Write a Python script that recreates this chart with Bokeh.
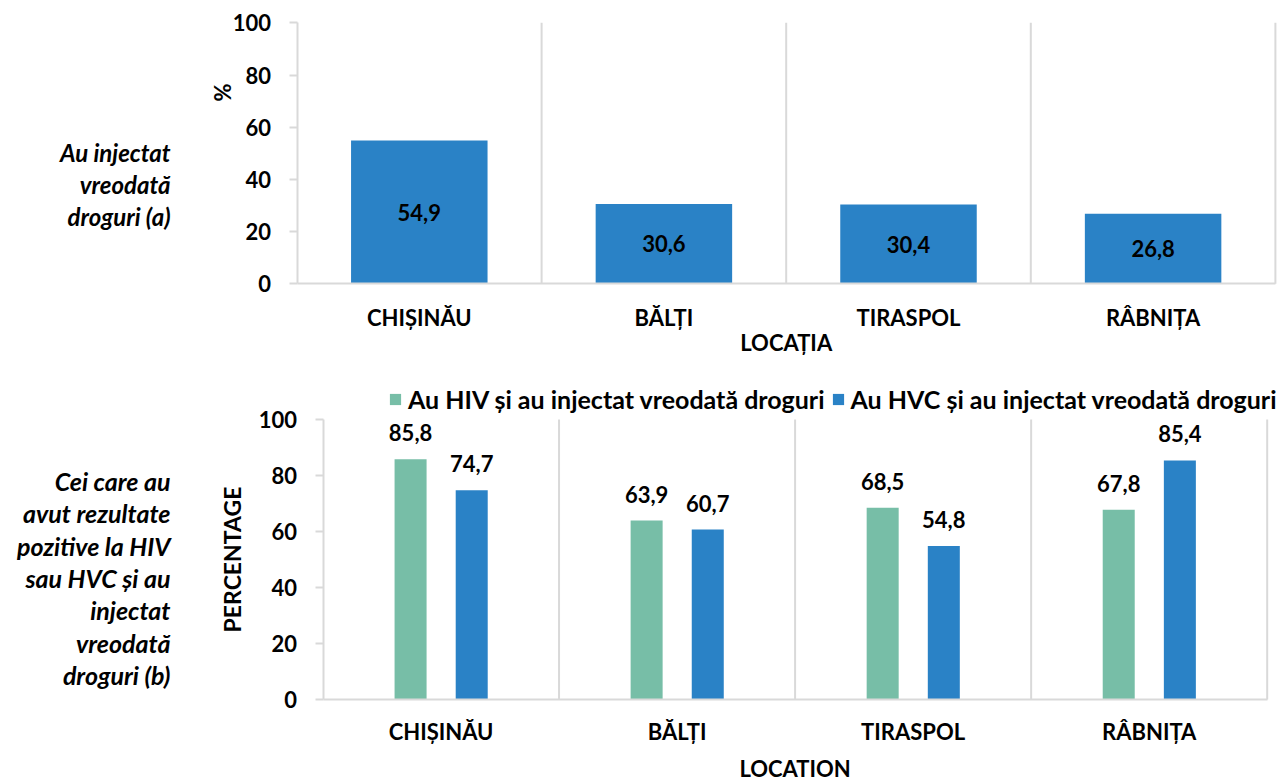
import math
from bokeh.plotting import figure
from bokeh.models import (Range1d, FixedTicker, ColumnDataSource, LabelSet, Label,
                          Legend, LegendItem)
from bokeh.layouts import column
from bokeh.core.properties import value
from bokeh.embed import file_html
from bokeh.resources import INLINE

# ---------------- data ----------------
locations = ["CHIȘINĂU", "BĂLȚI", "TIRASPOL", "RÂBNIȚA"]
injected_ever = [54.9, 30.6, 30.4, 26.8]
hiv_injected = [85.8, 63.9, 68.5, 67.8]
hvc_injected = [74.7, 60.7, 54.8, 85.4]
y_ticks = [0, 20, 40, 60, 80, 100]
label_a = ["Au injectat", "vreodată", "droguri (a)"]
label_b = ["Cei care au", "avut rezultate", "pozitive la HIV", "sau HVC și au",
           "injectat", "vreodată", "droguri (b)"]
legend_labels = ["Au HIV și au injectat vreodată droguri",
                 "Au HVC și au injectat vreodată droguri"]
x_title_a = "LOCAȚIA"
x_title_b = "LOCATION"
y_title_a = "%"
y_title_b = "PERCENTAGE"

# ---------------- style ----------------
FONT = "Lato"
GREY = "#D9D9D9"
BLUE = "#2A82C6"
GREEN = "#77BEA7"
W = 1283
n = len(locations)
centers = [i + 0.5 for i in range(n)]
bounds_x = list(range(1, n + 1))
fmt = lambda v: f"{v:.1f}".replace(".", ",")


def base_fig(height, ax_px, base_px, cat_px, unit_px):
    """Frame covers the whole canvas; both axes are pinned at the data origin.
    ax_px: canvas x of the value axis, base_px: canvas y of the zero line."""
    p = figure(width=W, height=height,
               x_range=Range1d(-ax_px / cat_px, (W - ax_px) / cat_px),
               y_range=Range1d(-(height - base_px) / unit_px, base_px / unit_px),
               output_backend="svg", toolbar_location=None,
               min_border_left=0, min_border_right=0, min_border_top=0,
               min_border_bottom=0)
    p.title.visible = False
    p.outline_line_color = None
    p.grid.grid_line_color = None
    # category separators
    p.segment(x0=bounds_x, y0=[0] * n, x1=bounds_x, y1=[max(y_ticks)] * n,
              line_color=GREY, line_width=2)
    # x axis
    p.xaxis.fixed_location = 0
    p.xaxis.bounds = (0, n)
    p.xaxis.ticker = FixedTicker(ticks=centers)
    p.xaxis.major_label_overrides = {c: t for c, t in zip(centers, locations)}
    p.xaxis.major_tick_out = 0
    p.xaxis.major_tick_in = 0
    p.xaxis.minor_tick_out = 0
    p.xaxis.minor_tick_in = 0
    p.xaxis.axis_line_color = GREY
    p.xaxis.axis_line_width = 2
    p.xaxis.major_label_text_font = FONT
    p.xaxis.major_label_text_font_style = "bold"
    p.xaxis.major_label_text_font_size = "22px"
    p.xaxis.major_label_text_color = "black"
    # y axis
    p.yaxis.fixed_location = 0
    p.yaxis.bounds = (0, max(y_ticks))
    p.yaxis.ticker = FixedTicker(ticks=y_ticks)
    p.yaxis.minor_tick_out = 0
    p.yaxis.minor_tick_in = 0
    p.yaxis.major_tick_in = 0
    p.yaxis.major_tick_out = 8
    p.yaxis.major_tick_line_color = GREY
    p.yaxis.major_tick_line_width = 2
    p.yaxis.axis_line_color = GREY
    p.yaxis.axis_line_width = 2
    p.yaxis.major_label_standoff = 18
    p.yaxis.major_label_text_font = FONT
    p.yaxis.major_label_text_font_style = "bold"
    p.yaxis.major_label_text_font_size = "22px"
    p.yaxis.major_label_text_color = "black"
    p.yaxis.axis_label_text_font = FONT
    p.yaxis.axis_label_text_font_style = "bold"
    p.yaxis.axis_label_text_font_size = "23px"
    p.yaxis.axis_label_text_color = "black"
    return p


def side_text(p, lines, x, y_first, step, size):
    for i, line in enumerate(lines):
        p.add_layout(Label(x=x, y=y_first - step * i, text=line, text_align="right",
                           text_baseline="middle", text_font=FONT,
                           text_font_style="bold italic", text_font_size=size,
                           text_color="black"))


def x_title(p, text, drop, size):
    p.add_layout(Label(x=n / 2, y=0, y_offset=-drop, text=text, text_align="center",
                       text_baseline="middle", text_font=FONT, text_font_style="bold",
                       text_font_size=size, text_color="black"))


# ---------------- top chart ----------------
top = base_fig(365, 296.5, 283.3, 244.6, 2.61)
src_a = ColumnDataSource(dict(x=centers, v=injected_ever,
                              ly=[v / 2 for v in injected_ever],
                              t=[fmt(v) for v in injected_ever]))
top.vbar(x="x", top="v", width=0.558, source=src_a, fill_color=BLUE, line_color=None)
top.add_layout(LabelSet(x="x", y="ly", text="t", source=src_a, text_align="center",
                        text_baseline="middle", text_font=value(FONT),
                        text_font_style="bold", text_font_size="22px", text_color="black"))
top.xaxis.major_label_standoff = 20
x_title(top, x_title_a, 58.5, "22px")
top.add_layout(Label(x=-0.305, y=73.3, text=y_title_a, angle=math.pi / 2, text_align="center",
                     text_baseline="middle", text_font=FONT, text_font_style="bold",
                     text_font_size="22px", text_color="black"))
side_text(top, label_a, -0.517, 50.3, 12.3, "24px")

# ---------------- bottom chart ----------------
bot = base_fig(417, 322.5, 334, 236.05, 2.80)
x_hiv = [c - 0.129 for c in centers]
x_hvc = [c + 0.130 for c in centers]
src_b = ColumnDataSource(dict(xh=x_hiv, xc=x_hvc, hiv=hiv_injected, hvc=hvc_injected,
                              th=[fmt(v) for v in hiv_injected],
                              tc=[fmt(v) for v in hvc_injected]))
r_hiv = bot.vbar(x="xh", top="hiv", width=0.1356, source=src_b, fill_color=GREEN, line_color=None)
r_hvc = bot.vbar(x="xc", top="hvc", width=0.1356, source=src_b, fill_color=BLUE, line_color=None)
for xs, ys, ts in (("xh", "hiv", "th"), ("xc", "hvc", "tc")):
    bot.add_layout(LabelSet(x=xs, y=ys, text=ts, source=src_b, text_align="center",
                            text_baseline="middle", y_offset=26.5, text_font=value(FONT),
                            text_font_style="bold", text_font_size="22px",
                            text_color="black"))
bot.xaxis.major_label_standoff = 18
x_title(bot, x_title_b, 69, "22px")
bot.yaxis.axis_label = y_title_b
bot.yaxis.axis_label_standoff = 10
side_text(bot, label_b, -0.646, 78.2, 11.6, "25px")

legend = Legend(items=[LegendItem(label=legend_labels[0], renderers=[r_hiv]),
                       LegendItem(label=legend_labels[1], renderers=[r_hvc])],
                orientation="horizontal", location=(388, 368),
                glyph_width=14, glyph_height=14, label_standoff=6, spacing=6,
                padding=0, margin=0, border_line_color=None, background_fill_alpha=0,
                label_text_font=FONT, label_text_font_style="bold",
                label_text_font_size="25px", label_text_color="black")
bot.add_layout(legend, "center")

layout = column(top, bot)
open("out.html", "w").write(file_html(layout, INLINE))
